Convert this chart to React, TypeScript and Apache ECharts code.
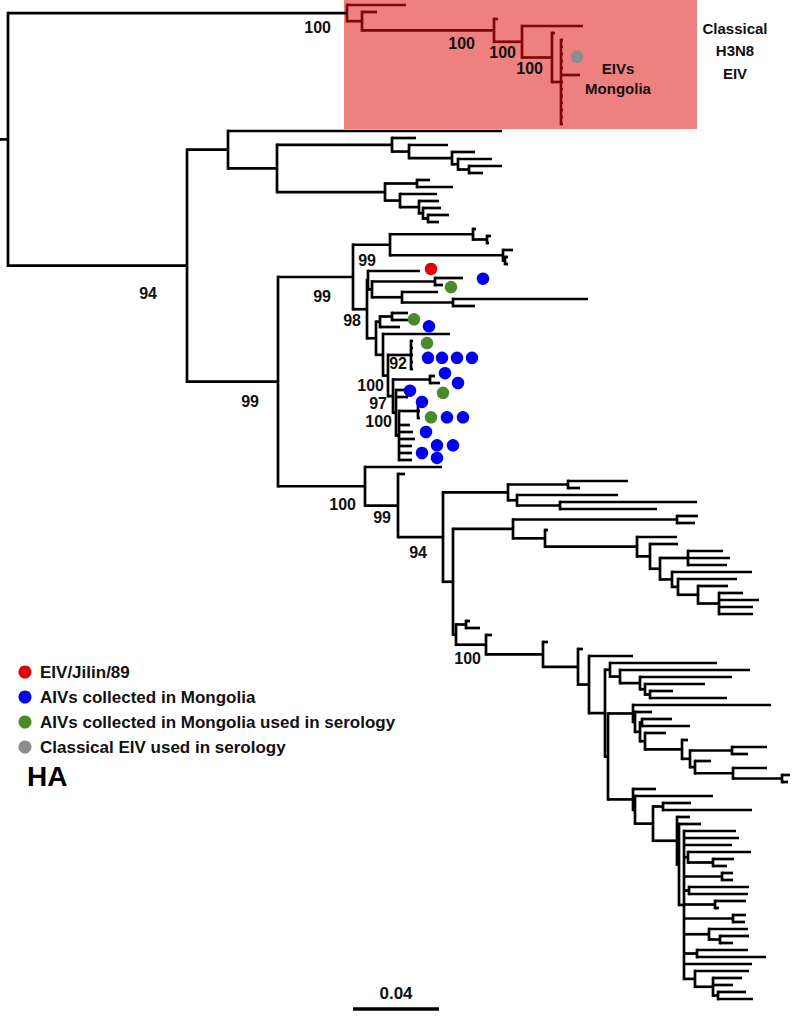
import React, { useEffect, useRef } from "react";
import * as echarts from "echarts";

// Tree: a leaf is its depth; an internal node is [depth, ...children].
// Depths are in scale units (86 units = 0.04 substitutions/site), root at 8.
const CLASSICAL_CLADE: any[] = [347, 406, [362, 377, [494, 498, [522, 583, [552, 555,
  [561, 563, 563, 563, 563, 563, 580, 563, 563, 563, 563, 563, 563, 563]]]]]];

const UPPER_CLADE: any[] = [228, 502, [277,
  [392, 416, [409, 448, [452, 475, [458, 492, [469, 502, 483]]]]],
  [385, [417, 430, 453], [400, 437, [419, 439, [423, 441, [428, 449, 439]]]]]]];

const CLADE_390: any[] = [390, [473, 476, [487, 491, 489]], [503, 513, [505, 508, 508]]];
const CLADE_370: any[] = [368, 420, [372, [435, 463, 443], [402, 438, [453, 588, 475]]]];
const CLADE_C: any[] = [380, [392, 408, 410], 400];
const CLADE_92: any[] = [411, 413, 413, 413, 413, 413];
const CLADE_G: any[] = [396, 405, 408, [399, [418, 420, 420, 420], 410, 413, 415, 412, 412, 412]];
const CLADE_F: any[] = [393, [430, 435, 440], CLADE_G];
const CLADE_D: any[] = [383, 450, [388, CLADE_92, CLADE_F]];
const CLADE_367: any[] = [367, CLADE_370, [376, CLADE_C, CLADE_D]];
const CLADE_353: any[] = [353, CLADE_390, CLADE_367];

const CLADE_508: any[] = [508, [568, 628, 580], [517, 618, [560, 697, 657]]];
const CLADE_X: any[] = [660, [688, 723, 730, 727], [672, 752, [678, 737, [698, 728, [719, 743, 759, 753, 753]]]]];
const CLADE_513: any[] = [513, [677, 698, 695], [545, 548, [637, 677, [650, 678, CLADE_X]]]];
const SUB_A: any[] = [610, 717, [620, 750, [640, 732, [645, 705, [650, 673, 727]]]]];
const SUB_B: any[] = [633, 771, [635, 652, [640, [642, 672, 690],
  [645, 666, [682, 688, [690, [732, 767, 748], [695, 711, [733, 767, [782, 790, 788]]]]]]]]];
const COMB: any[] = [684, 736, 739, 732, [688, 751, [713, 734, 727]], [722, 733, 733], [689, 749, 748],
  [715, 746, 719], [733, 746, 745], [709, 748, [720, 749, 733]], [697, 748, 766], 752,
  [695, 749, [713, 742, 733, [718, 746, 753]]]];
const SUB_C: any[] = [633, 656, [635, 713, [653, [663, 691, 752], [677, 690, [679, 701, COMB]]]]];
const CLADE_486: any[] = [486, 492, [543, 548, [578, 583, [589, 633, [605, SUB_A, [608, SUB_B, SUB_C]]]]]];
const CLADE_453: any[] = [453, CLADE_513, [456, [466, 470, 480], CLADE_486]];
const CLADE_365: any[] = [365, 442, [398, 405, [443, CLADE_508, CLADE_453]]];
const CLADE_187: any[] = [187, UPPER_CLADE, [278, CLADE_353, CLADE_365]];
const ROOT_DEPTH = 8;

// Bootstrap values keyed by node depth
const BOOTSTRAP: [number, string][] = [
  [347, "100"], [494, "100"], [522, "100"], [552, "100"], [187, "94"], [353, "99"], [278, "99"],
  [390, "99"], [367, "98"], [411, "92"], [388, "100"], [393, "97"], [396, "100"], [365, "100"],
  [398, "99"], [443, "94"], [486, "100"],
];
// label placement (px left of node, px below node)
const LABEL_OFFSET: Record<number, [number, number]> = {
  347: [16, 14], 494: [19, 13], 522: [6, 11], 552: [9, 11], 187: [30, 28], 353: [22, 20],
  278: [19, 20], 390: [14, 16], 367: [6, 11], 411: [4, 8], 388: [4, 10], 393: [6, 7],
  396: [4, 9], 365: [9, 18], 398: [7, 12], 443: [16, 15], 486: [5, 14],
};

// Marker dots: [depth, leaf row]
const RED_DOTS = [[431, 37.7]];
const BLUE_DOTS = [[483, 39.1], [429, 45.9], [428, 50.4], [442, 50.4], [457, 50.4], [472, 50.4],
  [445, 52.6], [458, 54], [410, 55.1], [422, 56.7], [447, 58.9], [463, 58.9], [426, 61],
  [437, 62.9], [453, 62.9], [422, 64], [437, 64.7]];
const GREEN_DOTS = [[451, 40.3], [414, 44.9], [427, 48.3], [443, 55.4], [431, 58.9]];
const GRAY_DOTS = [[577, 7.4]];

const LEGEND = [
  { name: "EIV/Jilin/89", color: "#e00000" },
  { name: "AIVs collected in Mongolia", color: "#0000ee" },
  { name: "AIVs collected in Mongolia used in serology", color: "#4b8a2b" },
  { name: "Classical EIV used in serology", color: "#8c8c8c" },
];

const SCALE_VALUE = "0.04";
const SCALE_UNITS = 86;

const FONT = '"Liberation Sans", Arial, sans-serif';
const BLACK = "#000000";
const DARKRED = "#7f0707";

function buildTree() {
  const segs: number[][] = [];
  const nodes: { d: number; y: number }[] = [];
  const counter = { i: 0 };
  const lay = (node: any, parentDepth: number, inColor: number, ownColor: number): number => {
    if (typeof node === "number") {
      const y = counter.i++;
      segs.push([parentDepth, y, node, y, inColor]);
      return y;
    }
    const d = node[0];
    const kids = node.slice(1);
    const ys = kids.map((k: any) => lay(k, d, ownColor, ownColor));
    const y = (ys[0] + ys[ys.length - 1]) / 2;
    segs.push([d, ys[0], d, ys[ys.length - 1], ownColor]);
    segs.push([parentDepth, y, d, y, inColor]);
    nodes.push({ d, y });
    return y;
  };
  const y1 = lay(CLASSICAL_CLADE, ROOT_DEPTH, 0, 1);
  const y2 = lay(CLADE_187, ROOT_DEPTH, 0, 0);
  segs.push([ROOT_DEPTH, y1, ROOT_DEPTH, y2, 0]);
  segs.push([0, (y1 + y2) / 2, ROOT_DEPTH, (y1 + y2) / 2, 0]);
  return { segs, nodes };
}

export default function App() {
  const ref = useRef<HTMLDivElement>(null);
  useEffect(() => {
    if (!ref.current) return;
    const chart = echarts.init(ref.current, undefined, { renderer: "svg" });
    const { segs, nodes } = buildTree();
    const labels = BOOTSTRAP.map(([d, t]) => {
      const n = nodes.find((k) => k.d === d)!;
      return { d, y: n.y, t };
    });
    const rowPx = 7;
    const topPad = 5;
    const scatter = (name: string, color: string, data: number[][]) => ({
      name,
      type: "scatter",
      data,
      symbolSize: 12.5,
      itemStyle: { color, opacity: 1 },
      z: 10,
      silent: true,
    });
    const textStyle = (text: string, size: number, align: string) => ({
      text, font: `bold ${size}px ${FONT}`, fill: "#111",
      align, verticalAlign: "middle", textAlign: align, textVerticalAlign: "middle",
    });
    const option: any = {
      animation: false,
      backgroundColor: "#ffffff",
      grid: { left: 0, right: 0, top: 0, bottom: 0 },
      xAxis: { type: "value", min: 0, max: 793, show: false },
      yAxis: { type: "value", min: -topPad / rowPx, max: (1019 - topPad) / rowPx, inverse: true, show: false },
      graphic: [
        { type: "rect", z: 0, shape: { x: 344, y: 0, width: 353, height: 129 }, style: { fill: "#ef8080" } },
        ...["Classical", "H3N8", "EIV"].map((t, i) => ({
          type: "text", z: 20, x: 735, y: 28 + i * 22.5, style: textStyle(t, 15, "center"),
        })),
        ...["EIVs", "Mongolia"].map((t, i) => ({
          type: "text", z: 20, x: 618, y: 68 + i * 20, style: textStyle(t, 15, "center"),
        })),
        ...LEGEND.flatMap((l, i) => [
          { type: "circle", z: 20, shape: { cx: 25, cy: 672 + i * 25, r: 6.5 }, style: { fill: l.color } },
          { type: "text", z: 20, x: 40, y: 672 + i * 25, style: textStyle(l.name, 17, "left") },
        ]),
        { type: "text", z: 20, x: 27, y: 776, style: { ...textStyle("HA", 28, "left"), fill: "#000" } },
        { type: "line", z: 20, shape: { x1: 353, y1: 1009, x2: 353 + SCALE_UNITS, y2: 1009 }, style: { stroke: "#000", lineWidth: 3.5 } },
        { type: "text", z: 20, x: 353 + SCALE_UNITS / 2, y: 993, style: textStyle(SCALE_VALUE, 17, "center") },
      ],
      series: [
        {
          type: "custom",
          z: 5,
          silent: true,
          data: segs,
          encode: { x: [0, 2], y: [1, 3] },
          renderItem: (params: any, api: any) => {
            const p1 = api.coord([api.value(0), api.value(1)]);
            const p2 = api.coord([api.value(2), api.value(3)]);
            const vertical = Math.abs(p1[0] - p2[0]) < 0.01;
            return {
              type: "line",
              shape: { x1: p1[0], y1: p1[1], x2: p2[0], y2: p2[1] },
              style: {
                stroke: api.value(4) === 1 ? DARKRED : BLACK,
                lineWidth: 2.7,
                lineCap: vertical ? "square" : "butt",
              },
            };
          },
        },
        {
          type: "custom",
          z: 8,
          silent: true,
          data: labels.map((l) => [l.d, l.y]),
          renderItem: (params: any, api: any) => {
            const lab = labels[params.dataIndex];
            const p = api.coord([api.value(0), api.value(1)]);
            const off = LABEL_OFFSET[lab.d] || [8, 13];
            return {
              type: "text",
              x: p[0] - off[0],
              y: p[1] + off[1],
              style: textStyle(lab.t, 16, "right"),
            };
          },
        },
        scatter(LEGEND[0].name, LEGEND[0].color, RED_DOTS),
        scatter(LEGEND[1].name, LEGEND[1].color, BLUE_DOTS),
        scatter(LEGEND[2].name, LEGEND[2].color, GREEN_DOTS),
        scatter(LEGEND[3].name, LEGEND[3].color, GRAY_DOTS),
      ],
    };
    chart.setOption(option);
    return () => chart.dispose();
  }, []);
  return <div ref={ref} style={{ position: "absolute", left: 0, top: 0, width: 793, height: 1019 }} />;
}
